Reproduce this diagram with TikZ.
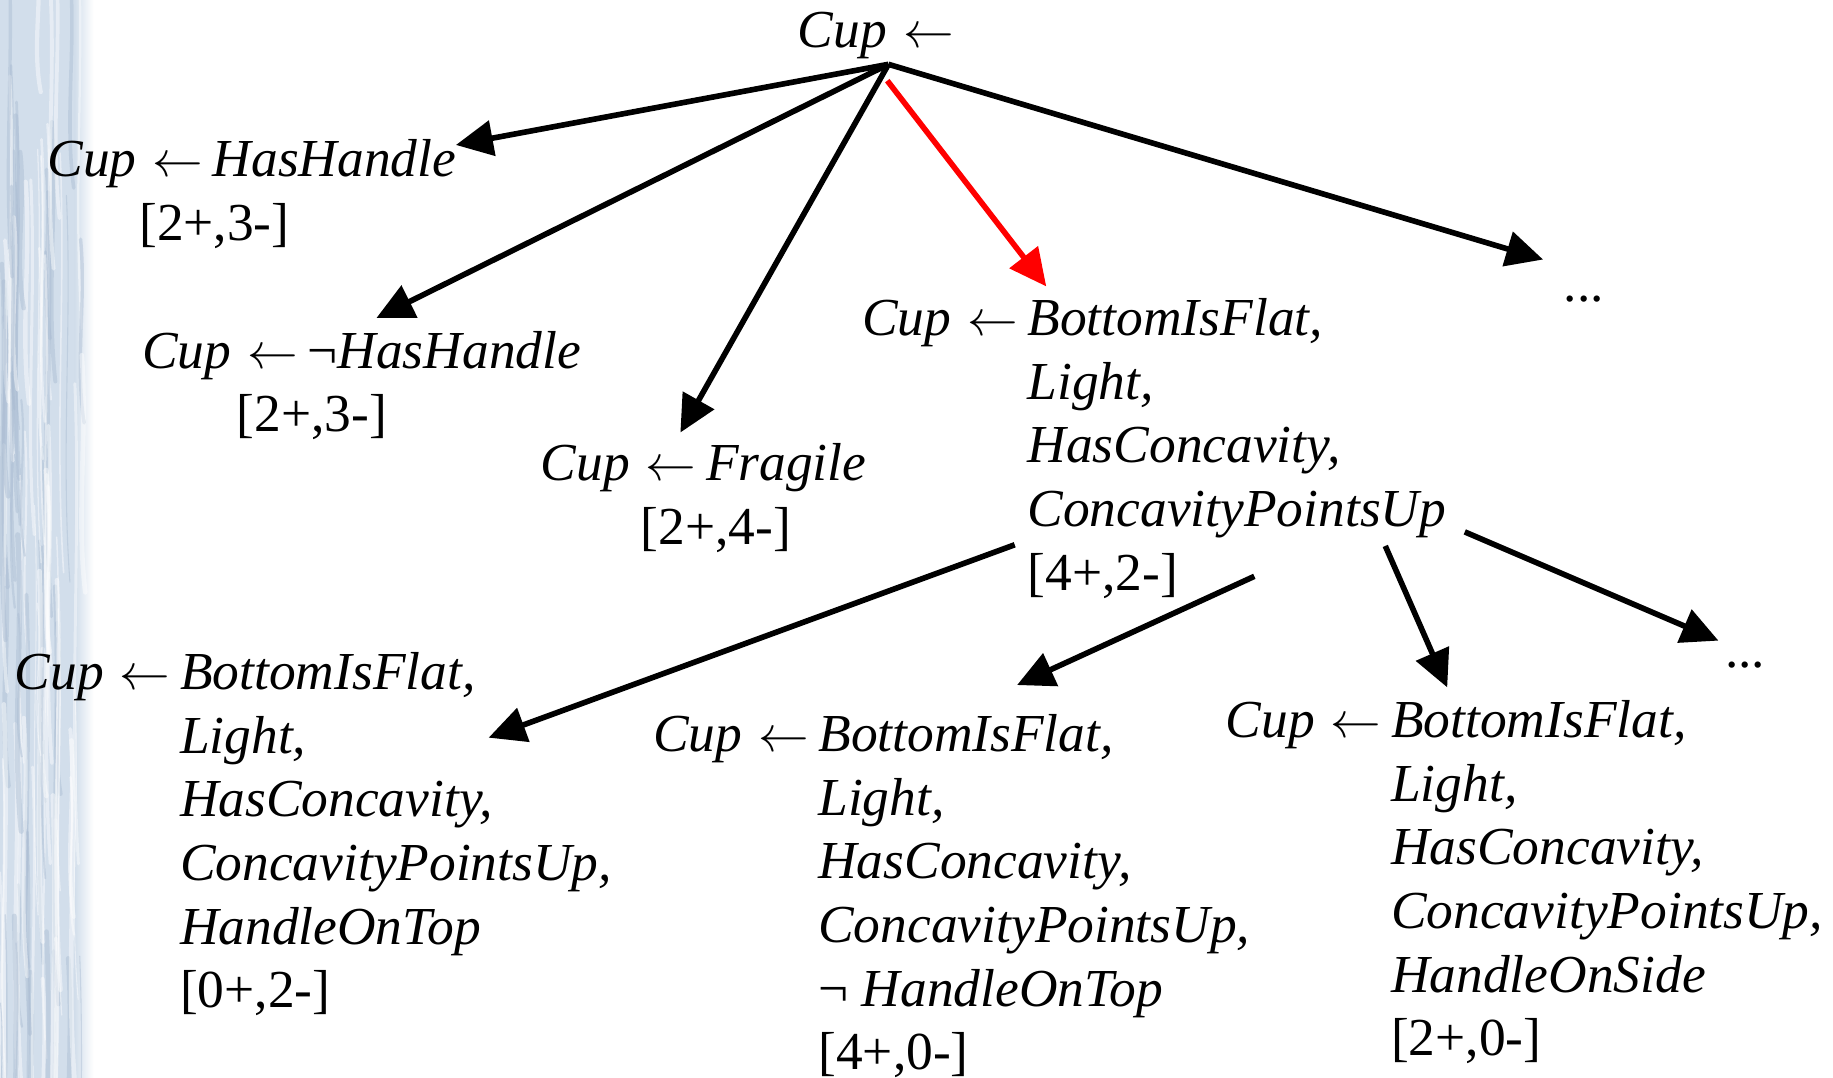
\documentclass[tikz,border=0pt]{standalone}
\usepackage{fontspec}
\setmainfont{Liberation Serif}
\usetikzlibrary{arrows.meta}
\definecolor{marble}{RGB}{210,222,235}
\definecolor{streak}{RGB}{170,188,210}
\tikzset{
  rule/.style={anchor=base west, inner sep=0pt, font=\fontsize{15.2}{18.1}\selectfont},
  arr/.style={line width=1.6pt, -{Triangle[length=0.37cm,width=0.35cm]}},
}
\newcommand{\lto}{\kern0.3em$\leftarrow$\kern0.18em}

\begin{document}
\begin{tikzpicture}[x=0.01169cm, y=-0.01169cm]
\useasboundingbox (0,0) rectangle (1568,922);
% marble strip on the left
\fill[marble] (0,0) rectangle (64,922);
\shade[left color=marble, right color=white] (64,0) rectangle (80,922);
\pgfmathsetseed{11}
\foreach \i in {1,...,90} {
  \pgfmathsetmacro\sx{rnd*70}
  \pgfmathsetmacro\sy{rnd*922-60}
  \pgfmathsetmacro\sl{120+rnd*300}
  \pgfmathsetmacro\sw{0.3+rnd*1.2}
  \pgfmathsetmacro\sc{rnd>0.45 ? "white" : "streak"}
  \draw[\sc, line width=\sw pt, opacity=0.45, line cap=round]
    (\sx,\sy) .. controls (\sx+5,\sy+\sl/3) and (\sx-5,\sy+2*\sl/3) .. (\sx+3,\sy+\sl);
}

% top rule and first level
\node[rule] (root) at (682,41) {\itshape Cup\lto};
\node[rule] (hh) at (40,151) {\begin{tabular}[t]{@{}l@{}l@{}}\itshape Cup & \lto\itshape HasHandle\\ & \hspace{0.05em}[2+,3-]\end{tabular}};
\node[rule] (nhh) at (121,315) {\begin{tabular}[t]{@{}l@{}l@{}}\itshape Cup & \lto¬\itshape HasHandle\\ & \hspace{0.1em}[2+,3-]\end{tabular}};
\node[rule] (frag) at (462,411) {\begin{tabular}[t]{@{}l@{}l@{}}\itshape Cup & \lto\itshape Fragile\\ & \hspace{0.2em}[2+,4-]\end{tabular}};
\node[rule] (flat) at (737,287) {\begin{tabular}[t]{@{}l@{}l@{}}\itshape Cup\lto & \itshape BottomIsFlat,\\ & \itshape Light,\\ & \itshape HasConcavity,\\ & \itshape ConcavityPointsUp\\ & [4+,2-]\end{tabular}};
\node[rule] (more) at (1337,258) {...};

% second level
\node[rule] (ontop) at (12,590) {\begin{tabular}[t]{@{}l@{}l@{}}\itshape Cup\lto & \itshape BottomIsFlat,\\ & \itshape Light,\\ & \itshape HasConcavity,\\ & \itshape ConcavityPointsUp,\\ & \itshape HandleOnTop\\ & [0+,2-]\end{tabular}};
\node[rule] (notop) at (558,643) {\begin{tabular}[t]{@{}l@{}l@{}}\itshape Cup\lto & \itshape BottomIsFlat,\\ & \itshape Light,\\ & \itshape HasConcavity,\\ & \itshape ConcavityPointsUp,\\ & ¬ \itshape HandleOnTop\\ & [4+,0-]\end{tabular}};
\node[rule] (side) at (1048,631) {\begin{tabular}[t]{@{}l@{}l@{}}\itshape Cup\lto & \itshape BottomIsFlat,\\ & \itshape Light,\\ & \itshape HasConcavity,\\ & \itshape ConcavityPointsUp,\\ & \itshape HandleOnSide\\ & [2+,0-]\end{tabular}};
\node[rule] (more2) at (1475,571) {...};

% arrow ends
\coordinate (fan) at (760,55);
\coordinate (redfrom) at (759,69);
\coordinate (hh-in) at (390,124);
\coordinate (nhh-in) at (322,272);
\coordinate (frag-in) at (582,370);
\coordinate (flat-in) at (895,245);
\coordinate (more-in) at (1320,222);
\coordinate (ontop-out) at (868,466);
\coordinate (ontop-in) at (418,631);
\coordinate (notop-out) at (1073,493);
\coordinate (notop-in) at (870,586);
\coordinate (side-out) at (1185,467);
\coordinate (side-in) at (1238,588);
\coordinate (more2-out) at (1253,455);
\coordinate (more2-in) at (1470,548);

\foreach \t in {hh-in, nhh-in, frag-in, more-in}
  \draw[arr] (fan) -- (\t);
\draw[arr, red] (redfrom) -- (flat-in);
\foreach \t in {ontop, notop, side, more2}
  \draw[arr] (\t-out) -- (\t-in);
\end{tikzpicture}
\end{document}
